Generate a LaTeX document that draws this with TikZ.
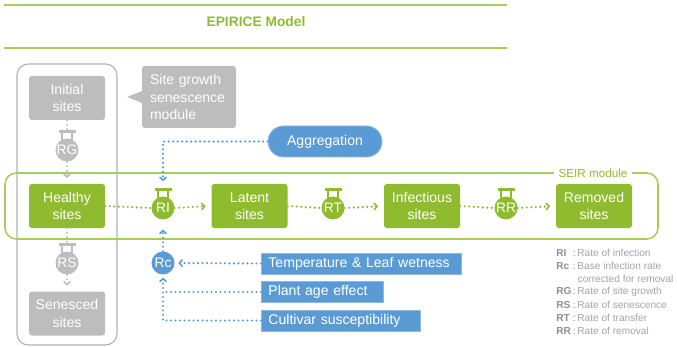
\documentclass[tikz,border=0pt]{standalone}
\usepackage{fontspec}
\setmainfont{Liberation Sans}
\usetikzlibrary{arrows.meta, positioning, calc}

\definecolor{leaf}{HTML}{8FBB2E}      % SEIR boxes and valves
\definecolor{leafline}{HTML}{A8CC58}  % module frame, title rules
\definecolor{stone}{HTML}{BDBDBD}     % growth/senescence boxes
\definecolor{stoneline}{HTML}{B0B0B0}
\definecolor{sky}{HTML}{5B9BD5}       % infection drivers
\definecolor{notecolor}{HTML}{A3A3A3}
\definecolor{keycolor}{HTML}{8E8E8E}

\def\px{0.025cm}   % one pixel of the reference

\tikzset{
  site/.style={fill=leaf, text=white, rounded corners=2pt, inner sep=0pt,
    minimum width=76*\px, minimum height=44*\px, align=center,
    font=\fontsize{10}{12.4}\selectfont},
  graysite/.style={site, fill=stone},
  valve/.style={circle, fill=#1, text=white, inner sep=0pt,
    minimum size=23*\px, font=\fontsize{9.8}{11}\selectfont},
  driver/.style={fill=sky, draw=sky!70!white, line width=0.6pt, text=white,
    anchor=west, inner xsep=7*\px, inner ysep=0pt, minimum height=21*\px,
    align=left, font=\fontsize{10}{12}\selectfont},
  flow/.style={line width=1.7pt, line cap=round, dash pattern=on 0pt off 3.2pt},
  tip/.style={-{Straight Barb[length=2.2pt, width=4.8pt, line width=1.1pt]}},
  legend/.style={anchor=west, inner sep=0pt, text=notecolor,
    font=\fontsize{7.2}{8.5}\selectfont},
}

\begin{document}
\begin{tikzpicture}[x=1*\px, y=1*\px]

\useasboundingbox (0,0) rectangle (677,-347);

% ---------------------------------------------------------------- title
\draw[leafline, line width=1.1pt] (4,-5) -- (507,-5);
\draw[leafline, line width=1.1pt] (4,-48) -- (507,-48);
\node[text=leaf, font=\fontsize{9.8}{11}\selectfont\bfseries] (title)
    at (256,-22) {EPIRICE Model};

% ---------------------------------------------------------------- module frames
\draw[stoneline, line width=0.8pt, rounded corners=8pt] (17,-64) rectangle (117,-345);
\draw[leafline, line width=1.1pt, rounded corners=8pt] (5,-173) rectangle (658,-239);
\node[fill=white, text=leaf, inner xsep=3pt, inner ysep=1pt,
      font=\fontsize{8.3}{10}\selectfont] (seir) at (593,-173) {SEIR module};

% ---------------------------------------------------------------- site boxes
\node[graysite] (initial)    at (67,-98)    {Initial\\sites};
\node[site]     (healthy)    at (67,-206)   {Healthy\\sites};
\node[graysite] (senesced)   at (67,-313.5) {Senesced\\sites};
\node[site]     (latent)     at (249.5,-206) {Latent\\sites};
\node[site]     (infectious) at (422,-206)  {Infectious\\sites};
\node[site]     (removed)    at (594,-206)  {Removed\\sites};

% ---------------------------------------------------------------- valves
\node[valve=stone] (rg) at (67,-150)  {RG};
\node[valve=stone] (rs) at (67,-263)  {RS};
\node[valve=leaf]  (ri) at (163,-208) {RI};
\node[valve=leaf]  (rt) at (333,-208) {RT};
\node[valve=leaf]  (rr) at (506,-208) {RR};
\node[valve=sky]   (rc) at (163,-263) {Rc};

% the handle on top of each valve
\foreach \v/\c in {rg/stone, rs/stone, ri/leaf, rt/leaf, rr/leaf} {
  \fill[\c] ($(\v.north)+(-8.5,5)$) rectangle ($(\v.north)+(8.5,8)$);
  \draw[\c, line width=1.3pt] ($(\v.north)+(-5,6)$) -- ($(\v.north)+(-5,-2)$);
  \draw[\c, line width=1.3pt] ($(\v.north)+(5,6)$) -- ($(\v.north)+(5,-2)$);
  \coordinate (\v-top) at ($(\v.north)+(0,8)$);
}

% ---------------------------------------------------------------- side notes
\node[fill=stone, text=white, rounded corners=2pt, inner xsep=8*\px,
      inner ysep=0pt, minimum height=62*\px, text width=78*\px, align=left,
      font=\fontsize{10}{12.3}\selectfont] (growth) at (189,-97)
    {Site growth\\senescence\\module};
\fill[stone] ($(growth.west)+(0.5,6)$) -- (127,-97) -- ($(growth.west)+(0.5,-6)$) -- cycle;

\node[fill=sky, draw=sky!70!white, line width=0.6pt, text=white,
      rounded corners=15.5*\px, minimum width=114*\px, minimum height=31*\px,
      font=\fontsize{10}{12}\selectfont] (aggr) at (325,-141.5) {Aggregation};

\node[driver, text width=186*\px] (temp)     at (261,-263.5) {Temperature \& Leaf wetness};
\node[driver, text width=108*\px] (plantage) at (261,-292)   {Plant age effect};
\node[driver, text width=145*\px] (cultivar) at (261,-320.5) {Cultivar susceptibility};

% ---------------------------------------------------------------- flows
\draw[flow, leaf] (healthy.east) -- (ri.west);
\draw[flow, leaf, tip, shorten >=4pt] (ri.east) -- (latent.west);
\draw[flow, leaf] (latent.east) -- (rt.west);
\draw[flow, leaf, tip, shorten >=4pt] (rt.east) -- (infectious.west);
\draw[flow, leaf] (infectious.east) -- (rr.west);
\draw[flow, leaf, tip, shorten >=4pt] (rr.east) -- (removed.west);

\draw[flow, stone] (initial.south) -- (rg-top);
\draw[flow, stone, tip, shorten >=4pt] (rg.south) -- (healthy.north);
\draw[flow, stone] (healthy.south) -- (rs-top);
\draw[flow, stone, tip, shorten >=4pt] (rs.south) -- (senesced.north);

\draw[flow, sky, tip, shorten >=5pt] (aggr.west) -| (ri-top);
\draw[flow, sky, tip, shorten >=7pt] (rc.north) -- (ri.south);
\draw[flow, sky, tip, shorten >=2.5pt] (temp.west) -- (rc.east);
\draw[flow, sky] (plantage.west) -- (plantage.west -| rc.south);
\draw[flow, sky, tip, shorten >=2pt] (cultivar.west) -| (rc.south);

% ---------------------------------------------------------------- key
\foreach \k/\t/\r in {RI/Rate of infection/0, Rc/Base infection rate/1,
                      RG/Rate of site growth/3, RS/Rate of senescence/4,
                      RT/Rate of transfer/5, RR/Rate of removal/6} {
  \node[legend] (key\r) at (556,-253-13*\r)
      {\makebox[11.8pt][l]{\textcolor{keycolor}{\bfseries\k}}\textcolor{keycolor}{:}\hspace{1.2pt}\t};
}
\node[legend] (key2) at (577.5,-279) {corrected for removal};

\end{tikzpicture}
\end{document}
